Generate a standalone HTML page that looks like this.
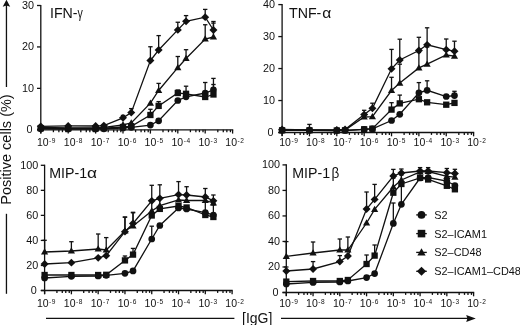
<!DOCTYPE html>
<html><head><meta charset="utf-8"><style>
html,body{margin:0;padding:0;background:#fff;}
svg{display:block;filter:blur(0.3px);}
text{font-family:"Liberation Sans",sans-serif;fill:#111;}
.yl{font-size:10.8px;text-anchor:end;}
.xl{font-size:10.5px;}
.sp{font-size:6.6px;letter-spacing:0.6px;}
.ti{font-size:14.2px;}
.lg{font-size:10.9px;}
.ax{font-size:14.5px;}
line,polyline{stroke:#111;stroke-width:1.3;}
circle,rect,path{fill:#111;}
</style></head><body>
<svg width="520" height="325" viewBox="0 0 520 325">
<line x1="40.8" y1="4.9" x2="40.8" y2="133.4" />
<line x1="37.0" y1="129.8" x2="233.2" y2="129.8" />
<line x1="37.0" y1="129.80" x2="40.8" y2="129.80" />
<text x="32.50" y="133.00" class="yl">0</text>
<line x1="37.0" y1="88.37" x2="40.8" y2="88.37" />
<text x="34.00" y="91.57" class="yl">10</text>
<line x1="37.0" y1="46.93" x2="40.8" y2="46.93" />
<text x="34.00" y="50.13" class="yl">20</text>
<line x1="37.0" y1="5.50" x2="40.8" y2="5.50" />
<text x="34.00" y="8.70" class="yl">30</text>
<line x1="40.80" y1="129.8" x2="40.80" y2="133.60000000000002" />
<line x1="53.40" y1="129.8" x2="53.40" y2="132.20000000000002" />
<line x1="58.88" y1="129.8" x2="58.88" y2="132.20000000000002" />
<line x1="62.45" y1="129.8" x2="62.45" y2="132.20000000000002" />
<line x1="66.01" y1="129.8" x2="66.01" y2="132.20000000000002" />
<text x="36.90" y="145.60" class="xl">10<tspan dx="0.5" dy="-2.9" class="sp">-9</tspan></text>
<line x1="68.20" y1="129.8" x2="68.20" y2="133.60000000000002" />
<line x1="80.80" y1="129.8" x2="80.80" y2="132.20000000000002" />
<line x1="86.28" y1="129.8" x2="86.28" y2="132.20000000000002" />
<line x1="89.85" y1="129.8" x2="89.85" y2="132.20000000000002" />
<line x1="93.41" y1="129.8" x2="93.41" y2="132.20000000000002" />
<text x="63.82" y="145.60" class="xl">10<tspan dx="0.5" dy="-2.9" class="sp">-8</tspan></text>
<line x1="95.60" y1="129.8" x2="95.60" y2="133.60000000000002" />
<line x1="108.20" y1="129.8" x2="108.20" y2="132.20000000000002" />
<line x1="113.68" y1="129.8" x2="113.68" y2="132.20000000000002" />
<line x1="117.25" y1="129.8" x2="117.25" y2="132.20000000000002" />
<line x1="120.81" y1="129.8" x2="120.81" y2="132.20000000000002" />
<text x="90.74" y="145.60" class="xl">10<tspan dx="0.5" dy="-2.9" class="sp">-7</tspan></text>
<line x1="123.00" y1="129.8" x2="123.00" y2="133.60000000000002" />
<line x1="135.60" y1="129.8" x2="135.60" y2="132.20000000000002" />
<line x1="141.08" y1="129.8" x2="141.08" y2="132.20000000000002" />
<line x1="144.65" y1="129.8" x2="144.65" y2="132.20000000000002" />
<line x1="148.21" y1="129.8" x2="148.21" y2="132.20000000000002" />
<text x="117.66" y="145.60" class="xl">10<tspan dx="0.5" dy="-2.9" class="sp">-6</tspan></text>
<line x1="150.40" y1="129.8" x2="150.40" y2="133.60000000000002" />
<line x1="163.00" y1="129.8" x2="163.00" y2="132.20000000000002" />
<line x1="168.48" y1="129.8" x2="168.48" y2="132.20000000000002" />
<line x1="172.05" y1="129.8" x2="172.05" y2="132.20000000000002" />
<line x1="175.61" y1="129.8" x2="175.61" y2="132.20000000000002" />
<text x="144.58" y="145.60" class="xl">10<tspan dx="0.5" dy="-2.9" class="sp">-5</tspan></text>
<line x1="177.80" y1="129.8" x2="177.80" y2="133.60000000000002" />
<line x1="190.40" y1="129.8" x2="190.40" y2="132.20000000000002" />
<line x1="195.88" y1="129.8" x2="195.88" y2="132.20000000000002" />
<line x1="199.45" y1="129.8" x2="199.45" y2="132.20000000000002" />
<line x1="203.01" y1="129.8" x2="203.01" y2="132.20000000000002" />
<text x="171.50" y="145.60" class="xl">10<tspan dx="0.5" dy="-2.9" class="sp">-4</tspan></text>
<line x1="205.20" y1="129.8" x2="205.20" y2="133.60000000000002" />
<line x1="217.80" y1="129.8" x2="217.80" y2="132.20000000000002" />
<line x1="223.28" y1="129.8" x2="223.28" y2="132.20000000000002" />
<line x1="226.85" y1="129.8" x2="226.85" y2="132.20000000000002" />
<line x1="230.41" y1="129.8" x2="230.41" y2="132.20000000000002" />
<text x="198.42" y="145.60" class="xl">10<tspan dx="0.5" dy="-2.9" class="sp">-3</tspan></text>
<line x1="232.60" y1="129.8" x2="232.60" y2="133.60000000000002" />
<text x="225.34" y="145.60" class="xl">10<tspan dx="0.5" dy="-2.9" class="sp">-2</tspan></text>
<text x="50.0" y="17.9" class="ti">IFN-</text>
<text transform="translate(77.6,17.9) scale(0.75,1)" class="ti">&#947;</text>
<line x1="282.1" y1="3.9999999999999996" x2="282.1" y2="136.1" />
<line x1="278.3" y1="132.5" x2="474.20000000000005" y2="132.5" />
<line x1="278.3" y1="132.50" x2="282.1" y2="132.50" />
<text x="273.50" y="135.70" class="yl">0</text>
<line x1="278.3" y1="100.53" x2="282.1" y2="100.53" />
<text x="275.00" y="103.73" class="yl">10</text>
<line x1="278.3" y1="68.55" x2="282.1" y2="68.55" />
<text x="275.00" y="71.75" class="yl">20</text>
<line x1="278.3" y1="36.58" x2="282.1" y2="36.58" />
<text x="275.00" y="39.78" class="yl">30</text>
<line x1="278.3" y1="4.60" x2="282.1" y2="4.60" />
<text x="275.00" y="7.80" class="yl">40</text>
<line x1="282.10" y1="132.5" x2="282.10" y2="136.3" />
<line x1="294.68" y1="132.5" x2="294.68" y2="134.9" />
<line x1="300.16" y1="132.5" x2="300.16" y2="134.9" />
<line x1="303.71" y1="132.5" x2="303.71" y2="134.9" />
<line x1="307.27" y1="132.5" x2="307.27" y2="134.9" />
<text x="279.20" y="145.60" class="xl">10<tspan dx="0.5" dy="-2.9" class="sp">-9</tspan></text>
<line x1="309.46" y1="132.5" x2="309.46" y2="136.3" />
<line x1="322.04" y1="132.5" x2="322.04" y2="134.9" />
<line x1="327.51" y1="132.5" x2="327.51" y2="134.9" />
<line x1="331.07" y1="132.5" x2="331.07" y2="134.9" />
<line x1="334.63" y1="132.5" x2="334.63" y2="134.9" />
<text x="306.07" y="145.60" class="xl">10<tspan dx="0.5" dy="-2.9" class="sp">-8</tspan></text>
<line x1="336.81" y1="132.5" x2="336.81" y2="136.3" />
<line x1="349.40" y1="132.5" x2="349.40" y2="134.9" />
<line x1="354.87" y1="132.5" x2="354.87" y2="134.9" />
<line x1="358.43" y1="132.5" x2="358.43" y2="134.9" />
<line x1="361.98" y1="132.5" x2="361.98" y2="134.9" />
<text x="332.94" y="145.60" class="xl">10<tspan dx="0.5" dy="-2.9" class="sp">-7</tspan></text>
<line x1="364.17" y1="132.5" x2="364.17" y2="136.3" />
<line x1="376.76" y1="132.5" x2="376.76" y2="134.9" />
<line x1="382.23" y1="132.5" x2="382.23" y2="134.9" />
<line x1="385.78" y1="132.5" x2="385.78" y2="134.9" />
<line x1="389.34" y1="132.5" x2="389.34" y2="134.9" />
<text x="359.81" y="145.60" class="xl">10<tspan dx="0.5" dy="-2.9" class="sp">-6</tspan></text>
<line x1="391.53" y1="132.5" x2="391.53" y2="136.3" />
<line x1="404.11" y1="132.5" x2="404.11" y2="134.9" />
<line x1="409.58" y1="132.5" x2="409.58" y2="134.9" />
<line x1="413.14" y1="132.5" x2="413.14" y2="134.9" />
<line x1="416.70" y1="132.5" x2="416.70" y2="134.9" />
<text x="386.68" y="145.60" class="xl">10<tspan dx="0.5" dy="-2.9" class="sp">-5</tspan></text>
<line x1="418.89" y1="132.5" x2="418.89" y2="136.3" />
<line x1="431.47" y1="132.5" x2="431.47" y2="134.9" />
<line x1="436.94" y1="132.5" x2="436.94" y2="134.9" />
<line x1="440.50" y1="132.5" x2="440.50" y2="134.9" />
<line x1="444.05" y1="132.5" x2="444.05" y2="134.9" />
<text x="413.55" y="145.60" class="xl">10<tspan dx="0.5" dy="-2.9" class="sp">-4</tspan></text>
<line x1="446.24" y1="132.5" x2="446.24" y2="136.3" />
<line x1="458.83" y1="132.5" x2="458.83" y2="134.9" />
<line x1="464.30" y1="132.5" x2="464.30" y2="134.9" />
<line x1="467.86" y1="132.5" x2="467.86" y2="134.9" />
<line x1="471.41" y1="132.5" x2="471.41" y2="134.9" />
<text x="440.42" y="145.60" class="xl">10<tspan dx="0.5" dy="-2.9" class="sp">-3</tspan></text>
<line x1="473.60" y1="132.5" x2="473.60" y2="136.3" />
<text x="467.29" y="145.60" class="xl">10<tspan dx="0.5" dy="-2.9" class="sp">-2</tspan></text>
<text x="289.0" y="17.9" class="ti">TNF-</text>
<text transform="translate(322.3,17.9) scale(1.1,1)" class="ti">&#945;</text>
<line x1="44.6" y1="164.70000000000002" x2="44.6" y2="294.1" />
<line x1="40.800000000000004" y1="290.5" x2="232.7" y2="290.5" />
<line x1="40.800000000000004" y1="290.50" x2="44.6" y2="290.50" />
<text x="36.80" y="293.70" class="yl">0</text>
<line x1="40.800000000000004" y1="265.46" x2="44.6" y2="265.46" />
<text x="38.30" y="268.66" class="yl">20</text>
<line x1="40.800000000000004" y1="240.42" x2="44.6" y2="240.42" />
<text x="38.30" y="243.62" class="yl">40</text>
<line x1="40.800000000000004" y1="215.38" x2="44.6" y2="215.38" />
<text x="38.30" y="218.58" class="yl">60</text>
<line x1="40.800000000000004" y1="190.34" x2="44.6" y2="190.34" />
<text x="38.30" y="193.54" class="yl">80</text>
<line x1="40.800000000000004" y1="165.30" x2="44.6" y2="165.30" />
<text x="38.30" y="168.50" class="yl">100</text>
<line x1="44.60" y1="290.5" x2="44.60" y2="294.3" />
<line x1="56.92" y1="290.5" x2="56.92" y2="292.9" />
<line x1="62.28" y1="290.5" x2="62.28" y2="292.9" />
<line x1="65.76" y1="290.5" x2="65.76" y2="292.9" />
<line x1="69.24" y1="290.5" x2="69.24" y2="292.9" />
<text x="36.90" y="307.00" class="xl">10<tspan dx="0.5" dy="-2.9" class="sp">-9</tspan></text>
<line x1="71.39" y1="290.5" x2="71.39" y2="294.3" />
<line x1="83.71" y1="290.5" x2="83.71" y2="292.9" />
<line x1="89.06" y1="290.5" x2="89.06" y2="292.9" />
<line x1="92.55" y1="290.5" x2="92.55" y2="292.9" />
<line x1="96.03" y1="290.5" x2="96.03" y2="292.9" />
<text x="63.82" y="307.00" class="xl">10<tspan dx="0.5" dy="-2.9" class="sp">-8</tspan></text>
<line x1="98.17" y1="290.5" x2="98.17" y2="294.3" />
<line x1="110.49" y1="290.5" x2="110.49" y2="292.9" />
<line x1="115.85" y1="290.5" x2="115.85" y2="292.9" />
<line x1="119.33" y1="290.5" x2="119.33" y2="292.9" />
<line x1="122.81" y1="290.5" x2="122.81" y2="292.9" />
<text x="90.74" y="307.00" class="xl">10<tspan dx="0.5" dy="-2.9" class="sp">-7</tspan></text>
<line x1="124.96" y1="290.5" x2="124.96" y2="294.3" />
<line x1="137.28" y1="290.5" x2="137.28" y2="292.9" />
<line x1="142.64" y1="290.5" x2="142.64" y2="292.9" />
<line x1="146.12" y1="290.5" x2="146.12" y2="292.9" />
<line x1="149.60" y1="290.5" x2="149.60" y2="292.9" />
<text x="117.66" y="307.00" class="xl">10<tspan dx="0.5" dy="-2.9" class="sp">-6</tspan></text>
<line x1="151.74" y1="290.5" x2="151.74" y2="294.3" />
<line x1="164.06" y1="290.5" x2="164.06" y2="292.9" />
<line x1="169.42" y1="290.5" x2="169.42" y2="292.9" />
<line x1="172.90" y1="290.5" x2="172.90" y2="292.9" />
<line x1="176.39" y1="290.5" x2="176.39" y2="292.9" />
<text x="144.58" y="307.00" class="xl">10<tspan dx="0.5" dy="-2.9" class="sp">-5</tspan></text>
<line x1="178.53" y1="290.5" x2="178.53" y2="294.3" />
<line x1="190.85" y1="290.5" x2="190.85" y2="292.9" />
<line x1="196.21" y1="290.5" x2="196.21" y2="292.9" />
<line x1="199.69" y1="290.5" x2="199.69" y2="292.9" />
<line x1="203.17" y1="290.5" x2="203.17" y2="292.9" />
<text x="171.50" y="307.00" class="xl">10<tspan dx="0.5" dy="-2.9" class="sp">-4</tspan></text>
<line x1="205.31" y1="290.5" x2="205.31" y2="294.3" />
<line x1="217.64" y1="290.5" x2="217.64" y2="292.9" />
<line x1="222.99" y1="290.5" x2="222.99" y2="292.9" />
<line x1="226.47" y1="290.5" x2="226.47" y2="292.9" />
<line x1="229.96" y1="290.5" x2="229.96" y2="292.9" />
<text x="198.42" y="307.00" class="xl">10<tspan dx="0.5" dy="-2.9" class="sp">-3</tspan></text>
<line x1="232.10" y1="290.5" x2="232.10" y2="294.3" />
<text x="225.34" y="307.00" class="xl">10<tspan dx="0.5" dy="-2.9" class="sp">-2</tspan></text>
<text x="49.3" y="177.9" class="ti">MIP-1</text>
<text transform="translate(87.1,177.9) scale(1.22,1)" class="ti">&#945;</text>
<line x1="286.3" y1="164.3" x2="286.3" y2="296.1" />
<line x1="282.5" y1="292.5" x2="474.20000000000005" y2="292.5" />
<line x1="282.5" y1="292.50" x2="286.3" y2="292.50" />
<text x="278.50" y="295.70" class="yl">0</text>
<line x1="282.5" y1="266.98" x2="286.3" y2="266.98" />
<text x="280.00" y="270.18" class="yl">20</text>
<line x1="282.5" y1="241.46" x2="286.3" y2="241.46" />
<text x="280.00" y="244.66" class="yl">40</text>
<line x1="282.5" y1="215.94" x2="286.3" y2="215.94" />
<text x="280.00" y="219.14" class="yl">60</text>
<line x1="282.5" y1="190.42" x2="286.3" y2="190.42" />
<text x="280.00" y="193.62" class="yl">80</text>
<line x1="282.5" y1="164.90" x2="286.3" y2="164.90" />
<text x="280.00" y="168.10" class="yl">100</text>
<line x1="286.30" y1="292.5" x2="286.30" y2="296.3" />
<line x1="298.61" y1="292.5" x2="298.61" y2="294.9" />
<line x1="303.96" y1="292.5" x2="303.96" y2="294.9" />
<line x1="307.44" y1="292.5" x2="307.44" y2="294.9" />
<line x1="310.92" y1="292.5" x2="310.92" y2="294.9" />
<text x="279.20" y="307.00" class="xl">10<tspan dx="0.5" dy="-2.9" class="sp">-9</tspan></text>
<line x1="313.06" y1="292.5" x2="313.06" y2="296.3" />
<line x1="325.37" y1="292.5" x2="325.37" y2="294.9" />
<line x1="330.72" y1="292.5" x2="330.72" y2="294.9" />
<line x1="334.20" y1="292.5" x2="334.20" y2="294.9" />
<line x1="337.67" y1="292.5" x2="337.67" y2="294.9" />
<text x="306.07" y="307.00" class="xl">10<tspan dx="0.5" dy="-2.9" class="sp">-8</tspan></text>
<line x1="339.81" y1="292.5" x2="339.81" y2="296.3" />
<line x1="352.12" y1="292.5" x2="352.12" y2="294.9" />
<line x1="357.47" y1="292.5" x2="357.47" y2="294.9" />
<line x1="360.95" y1="292.5" x2="360.95" y2="294.9" />
<line x1="364.43" y1="292.5" x2="364.43" y2="294.9" />
<text x="332.94" y="307.00" class="xl">10<tspan dx="0.5" dy="-2.9" class="sp">-7</tspan></text>
<line x1="366.57" y1="292.5" x2="366.57" y2="296.3" />
<line x1="378.88" y1="292.5" x2="378.88" y2="294.9" />
<line x1="384.23" y1="292.5" x2="384.23" y2="294.9" />
<line x1="387.71" y1="292.5" x2="387.71" y2="294.9" />
<line x1="391.19" y1="292.5" x2="391.19" y2="294.9" />
<text x="359.81" y="307.00" class="xl">10<tspan dx="0.5" dy="-2.9" class="sp">-6</tspan></text>
<line x1="393.33" y1="292.5" x2="393.33" y2="296.3" />
<line x1="405.64" y1="292.5" x2="405.64" y2="294.9" />
<line x1="410.99" y1="292.5" x2="410.99" y2="294.9" />
<line x1="414.47" y1="292.5" x2="414.47" y2="294.9" />
<line x1="417.95" y1="292.5" x2="417.95" y2="294.9" />
<text x="386.68" y="307.00" class="xl">10<tspan dx="0.5" dy="-2.9" class="sp">-5</tspan></text>
<line x1="420.09" y1="292.5" x2="420.09" y2="296.3" />
<line x1="432.39" y1="292.5" x2="432.39" y2="294.9" />
<line x1="437.75" y1="292.5" x2="437.75" y2="294.9" />
<line x1="441.22" y1="292.5" x2="441.22" y2="294.9" />
<line x1="444.70" y1="292.5" x2="444.70" y2="294.9" />
<text x="413.55" y="307.00" class="xl">10<tspan dx="0.5" dy="-2.9" class="sp">-4</tspan></text>
<line x1="446.84" y1="292.5" x2="446.84" y2="296.3" />
<line x1="459.15" y1="292.5" x2="459.15" y2="294.9" />
<line x1="464.50" y1="292.5" x2="464.50" y2="294.9" />
<line x1="467.98" y1="292.5" x2="467.98" y2="294.9" />
<line x1="471.46" y1="292.5" x2="471.46" y2="294.9" />
<text x="440.42" y="307.00" class="xl">10<tspan dx="0.5" dy="-2.9" class="sp">-3</tspan></text>
<line x1="473.60" y1="292.5" x2="473.60" y2="296.3" />
<text x="467.29" y="307.00" class="xl">10<tspan dx="0.5" dy="-2.9" class="sp">-2</tspan></text>
<text x="292.3" y="177.9" class="ti">MIP-1</text>
<text transform="translate(331.4,177.9) scale(0.95,1)" class="ti">&#946;</text>
<polyline points="40.80,128.80 68.20,129.00 95.60,129.00 103.85,128.80 123.00,128.00 131.25,127.30 150.40,125.10 158.65,120.80 177.80,100.50 186.05,96.80 205.20,93.00 213.45,89.80" fill="none" />
<line x1="213.45" y1="89.80" x2="213.45" y2="78.40" />
<line x1="211.25" y1="78.40" x2="215.65" y2="78.40" />
<circle cx="40.80" cy="128.80" r="3.35" />
<circle cx="68.20" cy="129.00" r="3.35" />
<circle cx="95.60" cy="129.00" r="3.35" />
<circle cx="103.85" cy="128.80" r="3.35" />
<circle cx="123.00" cy="128.00" r="3.35" />
<circle cx="131.25" cy="127.30" r="3.35" />
<circle cx="150.40" cy="125.10" r="3.35" />
<circle cx="158.65" cy="120.80" r="3.35" />
<circle cx="177.80" cy="100.50" r="3.35" />
<circle cx="186.05" cy="96.80" r="3.35" />
<circle cx="205.20" cy="93.00" r="3.35" />
<circle cx="213.45" cy="89.80" r="3.35" />
<polyline points="40.80,128.30 68.20,128.50 95.60,128.50 103.85,128.20 123.00,127.00 131.25,126.30 150.40,115.00 158.65,105.90 177.80,93.00 186.05,93.80 205.20,97.00 213.45,94.50" fill="none" />
<line x1="150.40" y1="115.00" x2="150.40" y2="109.30" />
<line x1="148.20" y1="109.30" x2="152.60" y2="109.30" />
<line x1="158.65" y1="105.90" x2="158.65" y2="101.60" />
<line x1="156.45" y1="101.60" x2="160.85" y2="101.60" />
<line x1="177.80" y1="93.00" x2="177.80" y2="90.00" />
<line x1="175.60" y1="90.00" x2="180.00" y2="90.00" />
<line x1="186.05" y1="93.80" x2="186.05" y2="86.20" />
<line x1="183.85" y1="86.20" x2="188.25" y2="86.20" />
<line x1="205.20" y1="97.00" x2="205.20" y2="82.50" />
<line x1="203.00" y1="82.50" x2="207.40" y2="82.50" />
<line x1="213.45" y1="94.50" x2="213.45" y2="84.50" />
<line x1="211.25" y1="84.50" x2="215.65" y2="84.50" />
<rect x="37.65" y="125.15" width="6.30" height="6.30" />
<rect x="65.05" y="125.35" width="6.30" height="6.30" />
<rect x="92.45" y="125.35" width="6.30" height="6.30" />
<rect x="100.70" y="125.05" width="6.30" height="6.30" />
<rect x="119.85" y="123.85" width="6.30" height="6.30" />
<rect x="128.10" y="123.15" width="6.30" height="6.30" />
<rect x="147.25" y="111.85" width="6.30" height="6.30" />
<rect x="155.50" y="102.75" width="6.30" height="6.30" />
<rect x="174.65" y="89.85" width="6.30" height="6.30" />
<rect x="182.90" y="90.65" width="6.30" height="6.30" />
<rect x="202.05" y="93.85" width="6.30" height="6.30" />
<rect x="210.30" y="91.35" width="6.30" height="6.30" />
<polyline points="40.80,127.50 68.20,127.80 95.60,127.80 103.85,127.50 123.00,124.80 131.25,123.00 150.40,103.10 158.65,90.50 177.80,67.70 186.05,58.50 205.20,39.00 213.45,37.00" fill="none" />
<line x1="158.65" y1="90.50" x2="158.65" y2="83.40" />
<line x1="156.45" y1="83.40" x2="160.85" y2="83.40" />
<line x1="177.80" y1="67.70" x2="177.80" y2="56.50" />
<line x1="175.60" y1="56.50" x2="180.00" y2="56.50" />
<line x1="186.05" y1="58.50" x2="186.05" y2="49.70" />
<line x1="183.85" y1="49.70" x2="188.25" y2="49.70" />
<line x1="205.20" y1="39.00" x2="205.20" y2="24.75" />
<line x1="203.00" y1="24.75" x2="207.40" y2="24.75" />
<line x1="213.45" y1="37.00" x2="213.45" y2="23.10" />
<line x1="211.25" y1="23.10" x2="215.65" y2="23.10" />
<path d="M40.80 123.80L44.40 130.10L37.20 130.10Z" />
<path d="M68.20 124.10L71.80 130.40L64.60 130.40Z" />
<path d="M95.60 124.10L99.20 130.40L92.00 130.40Z" />
<path d="M103.85 123.80L107.45 130.10L100.25 130.10Z" />
<path d="M123.00 121.10L126.60 127.40L119.40 127.40Z" />
<path d="M131.25 119.30L134.85 125.60L127.65 125.60Z" />
<path d="M150.40 99.40L154.00 105.70L146.80 105.70Z" />
<path d="M158.65 86.80L162.25 93.10L155.05 93.10Z" />
<path d="M177.80 64.00L181.40 70.30L174.20 70.30Z" />
<path d="M186.05 54.80L189.65 61.10L182.45 61.10Z" />
<path d="M205.20 35.30L208.80 41.60L201.60 41.60Z" />
<path d="M213.45 33.30L217.05 39.60L209.85 39.60Z" />
<polyline points="40.80,126.30 68.20,125.90 95.60,126.00 103.85,125.60 123.00,117.80 131.25,112.60 150.40,60.50 158.65,50.00 177.80,29.90 186.05,21.30 205.20,17.20 213.45,30.00" fill="none" />
<line x1="123.00" y1="117.80" x2="123.00" y2="115.40" />
<line x1="120.80" y1="115.40" x2="125.20" y2="115.40" />
<line x1="131.25" y1="112.60" x2="131.25" y2="108.60" />
<line x1="129.05" y1="108.60" x2="133.45" y2="108.60" />
<line x1="150.40" y1="60.50" x2="150.40" y2="46.75" />
<line x1="148.20" y1="46.75" x2="152.60" y2="46.75" />
<line x1="158.65" y1="50.00" x2="158.65" y2="35.60" />
<line x1="156.45" y1="35.60" x2="160.85" y2="35.60" />
<line x1="177.80" y1="29.90" x2="177.80" y2="22.25" />
<line x1="175.60" y1="22.25" x2="180.00" y2="22.25" />
<line x1="186.05" y1="21.30" x2="186.05" y2="15.60" />
<line x1="183.85" y1="15.60" x2="188.25" y2="15.60" />
<line x1="205.20" y1="17.20" x2="205.20" y2="9.40" />
<line x1="203.00" y1="9.40" x2="207.40" y2="9.40" />
<line x1="213.45" y1="30.00" x2="213.45" y2="21.50" />
<line x1="211.25" y1="21.50" x2="215.65" y2="21.50" />
<path d="M40.80 122.40L44.80 126.30L40.80 130.20L36.80 126.30Z" />
<path d="M68.20 122.00L72.20 125.90L68.20 129.80L64.20 125.90Z" />
<path d="M95.60 122.10L99.60 126.00L95.60 129.90L91.60 126.00Z" />
<path d="M103.85 121.70L107.85 125.60L103.85 129.50L99.85 125.60Z" />
<path d="M123.00 113.90L127.00 117.80L123.00 121.70L119.00 117.80Z" />
<path d="M131.25 108.70L135.25 112.60L131.25 116.50L127.25 112.60Z" />
<path d="M150.40 56.60L154.40 60.50L150.40 64.40L146.40 60.50Z" />
<path d="M158.65 46.10L162.65 50.00L158.65 53.90L154.65 50.00Z" />
<path d="M177.80 26.00L181.80 29.90L177.80 33.80L173.80 29.90Z" />
<path d="M186.05 17.40L190.05 21.30L186.05 25.20L182.05 21.30Z" />
<path d="M205.20 13.30L209.20 17.20L205.20 21.10L201.20 17.20Z" />
<path d="M213.45 26.10L217.45 30.00L213.45 33.90L209.45 30.00Z" />
<polyline points="282.10,130.30 309.46,130.30 336.81,130.50 345.05,130.50 364.17,129.30 372.41,128.80 391.53,120.50 399.76,114.30 418.89,92.80 427.12,90.30 446.24,96.50 454.48,95.60" fill="none" />
<line x1="418.89" y1="92.80" x2="418.89" y2="82.60" />
<line x1="416.69" y1="82.60" x2="421.09" y2="82.60" />
<line x1="427.12" y1="90.30" x2="427.12" y2="80.80" />
<line x1="424.92" y1="80.80" x2="429.32" y2="80.80" />
<line x1="454.48" y1="95.60" x2="454.48" y2="91.30" />
<line x1="452.28" y1="91.30" x2="456.68" y2="91.30" />
<circle cx="282.10" cy="130.30" r="3.35" />
<circle cx="309.46" cy="130.30" r="3.35" />
<circle cx="336.81" cy="130.50" r="3.35" />
<circle cx="345.05" cy="130.50" r="3.35" />
<circle cx="364.17" cy="129.30" r="3.35" />
<circle cx="372.41" cy="128.80" r="3.35" />
<circle cx="391.53" cy="120.50" r="3.35" />
<circle cx="399.76" cy="114.30" r="3.35" />
<circle cx="418.89" cy="92.80" r="3.35" />
<circle cx="427.12" cy="90.30" r="3.35" />
<circle cx="446.24" cy="96.50" r="3.35" />
<circle cx="454.48" cy="95.60" r="3.35" />
<polyline points="282.10,130.30 309.46,130.30 336.81,130.50 345.05,130.30 364.17,129.30 372.41,128.70 391.53,109.60 399.76,103.40 418.89,99.20 427.12,102.30 446.24,104.70 454.48,102.90" fill="none" />
<line x1="391.53" y1="109.60" x2="391.53" y2="102.70" />
<line x1="389.33" y1="102.70" x2="393.73" y2="102.70" />
<line x1="399.76" y1="103.40" x2="399.76" y2="95.10" />
<line x1="397.56" y1="95.10" x2="401.96" y2="95.10" />
<rect x="278.95" y="127.15" width="6.30" height="6.30" />
<rect x="306.31" y="127.15" width="6.30" height="6.30" />
<rect x="333.66" y="127.35" width="6.30" height="6.30" />
<rect x="341.90" y="127.15" width="6.30" height="6.30" />
<rect x="361.02" y="126.15" width="6.30" height="6.30" />
<rect x="369.26" y="125.55" width="6.30" height="6.30" />
<rect x="388.38" y="106.45" width="6.30" height="6.30" />
<rect x="396.61" y="100.25" width="6.30" height="6.30" />
<rect x="415.74" y="96.05" width="6.30" height="6.30" />
<rect x="423.97" y="99.15" width="6.30" height="6.30" />
<rect x="443.09" y="101.55" width="6.30" height="6.30" />
<rect x="451.33" y="99.75" width="6.30" height="6.30" />
<polyline points="282.10,130.00 309.46,130.00 336.81,130.30 345.05,130.00 364.17,117.00 372.41,116.60 391.53,90.50 399.76,83.10 418.89,67.90 427.12,64.20 446.24,55.00 454.48,56.20" fill="none" />
<line x1="391.53" y1="90.50" x2="391.53" y2="77.30" />
<line x1="389.33" y1="77.30" x2="393.73" y2="77.30" />
<line x1="399.76" y1="83.10" x2="399.76" y2="64.20" />
<line x1="397.56" y1="64.20" x2="401.96" y2="64.20" />
<line x1="418.89" y1="67.90" x2="418.89" y2="52.50" />
<line x1="416.69" y1="52.50" x2="421.09" y2="52.50" />
<line x1="427.12" y1="64.20" x2="427.12" y2="47.00" />
<line x1="424.92" y1="47.00" x2="429.32" y2="47.00" />
<path d="M282.10 126.30L285.70 132.60L278.50 132.60Z" />
<path d="M309.46 126.30L313.06 132.60L305.86 132.60Z" />
<path d="M336.81 126.60L340.41 132.90L333.21 132.90Z" />
<path d="M345.05 126.30L348.65 132.60L341.45 132.60Z" />
<path d="M364.17 113.30L367.77 119.60L360.57 119.60Z" />
<path d="M372.41 112.90L376.01 119.20L368.81 119.20Z" />
<path d="M391.53 86.80L395.13 93.10L387.93 93.10Z" />
<path d="M399.76 79.40L403.36 85.70L396.16 85.70Z" />
<path d="M418.89 64.20L422.49 70.50L415.29 70.50Z" />
<path d="M427.12 60.50L430.72 66.80L423.52 66.80Z" />
<path d="M446.24 51.30L449.84 57.60L442.64 57.60Z" />
<path d="M454.48 52.50L458.08 58.80L450.88 58.80Z" />
<polyline points="282.10,129.50 309.46,129.90 336.81,130.00 345.05,129.50 364.17,114.60 372.41,108.30 391.53,68.80 399.76,60.00 418.89,50.50 427.12,44.80 446.24,49.70 454.48,51.20" fill="none" />
<line x1="309.46" y1="129.90" x2="309.46" y2="124.40" />
<line x1="307.26" y1="124.40" x2="311.66" y2="124.40" />
<line x1="364.17" y1="114.60" x2="364.17" y2="110.30" />
<line x1="361.97" y1="110.30" x2="366.37" y2="110.30" />
<line x1="372.41" y1="108.30" x2="372.41" y2="103.20" />
<line x1="370.21" y1="103.20" x2="374.61" y2="103.20" />
<line x1="391.53" y1="68.80" x2="391.53" y2="49.40" />
<line x1="389.33" y1="49.40" x2="393.73" y2="49.40" />
<line x1="399.76" y1="60.00" x2="399.76" y2="39.20" />
<line x1="397.56" y1="39.20" x2="401.96" y2="39.20" />
<line x1="418.89" y1="50.50" x2="418.89" y2="37.30" />
<line x1="416.69" y1="37.30" x2="421.09" y2="37.30" />
<line x1="427.12" y1="44.80" x2="427.12" y2="27.80" />
<line x1="424.92" y1="27.80" x2="429.32" y2="27.80" />
<line x1="446.24" y1="49.70" x2="446.24" y2="39.00" />
<line x1="444.04" y1="39.00" x2="448.44" y2="39.00" />
<line x1="454.48" y1="51.20" x2="454.48" y2="41.20" />
<line x1="452.28" y1="41.20" x2="456.68" y2="41.20" />
<path d="M282.10 125.60L286.10 129.50L282.10 133.40L278.10 129.50Z" />
<path d="M309.46 126.00L313.46 129.90L309.46 133.80L305.46 129.90Z" />
<path d="M336.81 126.10L340.81 130.00L336.81 133.90L332.81 130.00Z" />
<path d="M345.05 125.60L349.05 129.50L345.05 133.40L341.05 129.50Z" />
<path d="M364.17 110.70L368.17 114.60L364.17 118.50L360.17 114.60Z" />
<path d="M372.41 104.40L376.41 108.30L372.41 112.20L368.41 108.30Z" />
<path d="M391.53 64.90L395.53 68.80L391.53 72.70L387.53 68.80Z" />
<path d="M399.76 56.10L403.76 60.00L399.76 63.90L395.76 60.00Z" />
<path d="M418.89 46.60L422.89 50.50L418.89 54.40L414.89 50.50Z" />
<path d="M427.12 40.90L431.12 44.80L427.12 48.70L423.12 44.80Z" />
<path d="M446.24 45.80L450.24 49.70L446.24 53.60L442.24 49.70Z" />
<path d="M454.48 47.30L458.48 51.20L454.48 55.10L450.48 51.20Z" />
<polyline points="44.60,278.00 71.39,276.30 98.17,276.00 106.23,275.30 124.96,273.30 133.02,270.90 151.74,239.00 159.81,225.50 178.53,208.00 186.59,209.00 205.31,212.70 213.38,215.00" fill="none" />
<line x1="151.74" y1="239.00" x2="151.74" y2="226.20" />
<line x1="149.54" y1="226.20" x2="153.94" y2="226.20" />
<circle cx="44.60" cy="278.00" r="3.35" />
<circle cx="71.39" cy="276.30" r="3.35" />
<circle cx="98.17" cy="276.00" r="3.35" />
<circle cx="106.23" cy="275.30" r="3.35" />
<circle cx="124.96" cy="273.30" r="3.35" />
<circle cx="133.02" cy="270.90" r="3.35" />
<circle cx="151.74" cy="239.00" r="3.35" />
<circle cx="159.81" cy="225.50" r="3.35" />
<circle cx="178.53" cy="208.00" r="3.35" />
<circle cx="186.59" cy="209.00" r="3.35" />
<circle cx="205.31" cy="212.70" r="3.35" />
<circle cx="213.38" cy="215.00" r="3.35" />
<polyline points="44.60,275.00 71.39,275.00 98.17,275.00 106.23,274.80 124.96,260.40 133.02,254.60 151.74,215.50 159.81,208.90 178.53,206.00 186.59,207.50 205.31,215.00 213.38,217.00" fill="none" />
<line x1="124.96" y1="260.40" x2="124.96" y2="256.00" />
<line x1="122.76" y1="256.00" x2="127.16" y2="256.00" />
<line x1="133.02" y1="254.60" x2="133.02" y2="248.40" />
<line x1="130.82" y1="248.40" x2="135.22" y2="248.40" />
<line x1="151.74" y1="215.50" x2="151.74" y2="201.50" />
<line x1="149.54" y1="201.50" x2="153.94" y2="201.50" />
<line x1="159.81" y1="208.90" x2="159.81" y2="199.00" />
<line x1="157.61" y1="199.00" x2="162.01" y2="199.00" />
<line x1="205.31" y1="215.00" x2="205.31" y2="202.00" />
<line x1="203.11" y1="202.00" x2="207.51" y2="202.00" />
<line x1="213.38" y1="217.00" x2="213.38" y2="205.00" />
<line x1="211.18" y1="205.00" x2="215.58" y2="205.00" />
<rect x="41.45" y="271.85" width="6.30" height="6.30" />
<rect x="68.24" y="271.85" width="6.30" height="6.30" />
<rect x="95.02" y="271.85" width="6.30" height="6.30" />
<rect x="103.08" y="271.65" width="6.30" height="6.30" />
<rect x="121.81" y="257.25" width="6.30" height="6.30" />
<rect x="129.87" y="251.45" width="6.30" height="6.30" />
<rect x="148.59" y="212.35" width="6.30" height="6.30" />
<rect x="156.66" y="205.75" width="6.30" height="6.30" />
<rect x="175.38" y="202.85" width="6.30" height="6.30" />
<rect x="183.44" y="204.35" width="6.30" height="6.30" />
<rect x="202.16" y="211.85" width="6.30" height="6.30" />
<rect x="210.23" y="213.85" width="6.30" height="6.30" />
<polyline points="44.60,252.00 71.39,251.00 98.17,249.00 106.23,250.00 124.96,231.00 133.02,226.00 151.74,211.00 159.81,205.70 178.53,200.00 186.59,200.50 205.31,200.30 213.38,203.00" fill="none" />
<line x1="44.60" y1="252.00" x2="44.60" y2="240.30" />
<line x1="42.40" y1="240.30" x2="46.80" y2="240.30" />
<line x1="71.39" y1="251.00" x2="71.39" y2="241.70" />
<line x1="69.19" y1="241.70" x2="73.59" y2="241.70" />
<line x1="98.17" y1="249.00" x2="98.17" y2="234.00" />
<line x1="95.97" y1="234.00" x2="100.37" y2="234.00" />
<line x1="106.23" y1="250.00" x2="106.23" y2="237.60" />
<line x1="104.03" y1="237.60" x2="108.43" y2="237.60" />
<line x1="124.96" y1="231.00" x2="124.96" y2="217.20" />
<line x1="122.76" y1="217.20" x2="127.16" y2="217.20" />
<line x1="133.02" y1="226.00" x2="133.02" y2="212.80" />
<line x1="130.82" y1="212.80" x2="135.22" y2="212.80" />
<path d="M44.60 248.30L48.20 254.60L41.00 254.60Z" />
<path d="M71.39 247.30L74.99 253.60L67.79 253.60Z" />
<path d="M98.17 245.30L101.77 251.60L94.57 251.60Z" />
<path d="M106.23 246.30L109.83 252.60L102.63 252.60Z" />
<path d="M124.96 227.30L128.56 233.60L121.36 233.60Z" />
<path d="M133.02 222.30L136.62 228.60L129.42 228.60Z" />
<path d="M151.74 207.30L155.34 213.60L148.14 213.60Z" />
<path d="M159.81 202.00L163.41 208.30L156.21 208.30Z" />
<path d="M178.53 196.30L182.13 202.60L174.93 202.60Z" />
<path d="M186.59 196.80L190.19 203.10L182.99 203.10Z" />
<path d="M205.31 196.60L208.91 202.90L201.71 202.90Z" />
<path d="M213.38 199.30L216.98 205.60L209.78 205.60Z" />
<polyline points="44.60,264.00 71.39,262.70 98.17,257.80 106.23,255.70 124.96,231.70 133.02,223.50 151.74,200.80 159.81,198.30 178.53,194.60 186.59,195.00 205.31,197.00 213.38,200.80" fill="none" />
<line x1="124.96" y1="231.70" x2="124.96" y2="217.00" />
<line x1="122.76" y1="217.00" x2="127.16" y2="217.00" />
<line x1="133.02" y1="223.50" x2="133.02" y2="212.30" />
<line x1="130.82" y1="212.30" x2="135.22" y2="212.30" />
<line x1="151.74" y1="200.80" x2="151.74" y2="185.30" />
<line x1="149.54" y1="185.30" x2="153.94" y2="185.30" />
<line x1="159.81" y1="198.30" x2="159.81" y2="184.80" />
<line x1="157.61" y1="184.80" x2="162.01" y2="184.80" />
<line x1="178.53" y1="194.60" x2="178.53" y2="181.60" />
<line x1="176.33" y1="181.60" x2="180.73" y2="181.60" />
<line x1="186.59" y1="195.00" x2="186.59" y2="186.70" />
<line x1="184.39" y1="186.70" x2="188.79" y2="186.70" />
<line x1="205.31" y1="197.00" x2="205.31" y2="188.50" />
<line x1="203.11" y1="188.50" x2="207.51" y2="188.50" />
<line x1="213.38" y1="200.80" x2="213.38" y2="195.00" />
<line x1="211.18" y1="195.00" x2="215.58" y2="195.00" />
<path d="M44.60 260.10L48.60 264.00L44.60 267.90L40.60 264.00Z" />
<path d="M71.39 258.80L75.39 262.70L71.39 266.60L67.39 262.70Z" />
<path d="M98.17 253.90L102.17 257.80L98.17 261.70L94.17 257.80Z" />
<path d="M106.23 251.80L110.23 255.70L106.23 259.60L102.23 255.70Z" />
<path d="M124.96 227.80L128.96 231.70L124.96 235.60L120.96 231.70Z" />
<path d="M133.02 219.60L137.02 223.50L133.02 227.40L129.02 223.50Z" />
<path d="M151.74 196.90L155.74 200.80L151.74 204.70L147.74 200.80Z" />
<path d="M159.81 194.40L163.81 198.30L159.81 202.20L155.81 198.30Z" />
<path d="M178.53 190.70L182.53 194.60L178.53 198.50L174.53 194.60Z" />
<path d="M186.59 191.10L190.59 195.00L186.59 198.90L182.59 195.00Z" />
<path d="M205.31 193.10L209.31 197.00L205.31 200.90L201.31 197.00Z" />
<path d="M213.38 196.90L217.38 200.80L213.38 204.70L209.38 200.80Z" />
<polyline points="286.30,284.00 313.06,282.40 339.81,282.00 347.87,281.00 366.57,277.60 374.63,273.60 393.33,223.40 401.38,204.30 420.09,178.00 428.14,177.50 446.84,181.00 454.90,185.50" fill="none" />
<line x1="393.33" y1="223.40" x2="393.33" y2="203.00" />
<line x1="391.13" y1="203.00" x2="395.53" y2="203.00" />
<line x1="401.38" y1="204.30" x2="401.38" y2="175.00" />
<line x1="399.18" y1="175.00" x2="403.58" y2="175.00" />
<circle cx="286.30" cy="284.00" r="3.35" />
<circle cx="313.06" cy="282.40" r="3.35" />
<circle cx="339.81" cy="282.00" r="3.35" />
<circle cx="347.87" cy="281.00" r="3.35" />
<circle cx="366.57" cy="277.60" r="3.35" />
<circle cx="374.63" cy="273.60" r="3.35" />
<circle cx="393.33" cy="223.40" r="3.35" />
<circle cx="401.38" cy="204.30" r="3.35" />
<circle cx="420.09" cy="178.00" r="3.35" />
<circle cx="428.14" cy="177.50" r="3.35" />
<circle cx="446.84" cy="181.00" r="3.35" />
<circle cx="454.90" cy="185.50" r="3.35" />
<polyline points="286.30,281.60 313.06,281.00 339.81,281.00 347.87,280.00 366.57,264.00 374.63,255.60 393.33,192.70 401.38,184.00 420.09,177.80 428.14,179.50 446.84,185.80 454.90,189.30" fill="none" />
<line x1="366.57" y1="264.00" x2="366.57" y2="255.00" />
<line x1="364.37" y1="255.00" x2="368.77" y2="255.00" />
<line x1="374.63" y1="255.60" x2="374.63" y2="245.00" />
<line x1="372.43" y1="245.00" x2="376.83" y2="245.00" />
<line x1="393.33" y1="192.70" x2="393.33" y2="178.00" />
<line x1="391.13" y1="178.00" x2="395.53" y2="178.00" />
<rect x="283.15" y="278.45" width="6.30" height="6.30" />
<rect x="309.91" y="277.85" width="6.30" height="6.30" />
<rect x="336.66" y="277.85" width="6.30" height="6.30" />
<rect x="344.72" y="276.85" width="6.30" height="6.30" />
<rect x="363.42" y="260.85" width="6.30" height="6.30" />
<rect x="371.48" y="252.45" width="6.30" height="6.30" />
<rect x="390.18" y="189.55" width="6.30" height="6.30" />
<rect x="398.23" y="180.85" width="6.30" height="6.30" />
<rect x="416.94" y="174.65" width="6.30" height="6.30" />
<rect x="424.99" y="176.35" width="6.30" height="6.30" />
<rect x="443.69" y="182.65" width="6.30" height="6.30" />
<rect x="451.75" y="186.15" width="6.30" height="6.30" />
<polyline points="286.30,256.40 313.06,253.00 339.81,250.00 347.87,250.00 366.57,223.00 374.63,209.40 393.33,187.00 401.38,180.00 420.09,172.00 428.14,171.50 446.84,176.30 454.90,177.20" fill="none" />
<line x1="286.30" y1="256.40" x2="286.30" y2="241.60" />
<line x1="284.10" y1="241.60" x2="288.50" y2="241.60" />
<line x1="313.06" y1="253.00" x2="313.06" y2="242.00" />
<line x1="310.86" y1="242.00" x2="315.26" y2="242.00" />
<line x1="339.81" y1="250.00" x2="339.81" y2="239.00" />
<line x1="337.61" y1="239.00" x2="342.01" y2="239.00" />
<line x1="347.87" y1="250.00" x2="347.87" y2="237.00" />
<line x1="345.67" y1="237.00" x2="350.07" y2="237.00" />
<path d="M286.30 252.70L289.90 259.00L282.70 259.00Z" />
<path d="M313.06 249.30L316.66 255.60L309.46 255.60Z" />
<path d="M339.81 246.30L343.41 252.60L336.21 252.60Z" />
<path d="M347.87 246.30L351.47 252.60L344.27 252.60Z" />
<path d="M366.57 219.30L370.17 225.60L362.97 225.60Z" />
<path d="M374.63 205.70L378.23 212.00L371.03 212.00Z" />
<path d="M393.33 183.30L396.93 189.60L389.73 189.60Z" />
<path d="M401.38 176.30L404.98 182.60L397.78 182.60Z" />
<path d="M420.09 168.30L423.69 174.60L416.49 174.60Z" />
<path d="M428.14 167.80L431.74 174.10L424.54 174.10Z" />
<path d="M446.84 172.60L450.44 178.90L443.24 178.90Z" />
<path d="M454.90 173.50L458.50 179.80L451.30 179.80Z" />
<polyline points="286.30,271.00 313.06,269.00 339.81,261.60 347.87,256.00 366.57,209.00 374.63,199.40 393.33,176.00 401.38,173.00 420.09,171.00 428.14,171.00 446.84,172.70 454.90,173.50" fill="none" />
<line x1="286.30" y1="271.00" x2="286.30" y2="267.00" />
<line x1="284.10" y1="267.00" x2="288.50" y2="267.00" />
<line x1="313.06" y1="269.00" x2="313.06" y2="261.60" />
<line x1="310.86" y1="261.60" x2="315.26" y2="261.60" />
<line x1="339.81" y1="261.60" x2="339.81" y2="255.60" />
<line x1="337.61" y1="255.60" x2="342.01" y2="255.60" />
<line x1="366.57" y1="209.00" x2="366.57" y2="192.00" />
<line x1="364.37" y1="192.00" x2="368.77" y2="192.00" />
<line x1="374.63" y1="199.40" x2="374.63" y2="184.40" />
<line x1="372.43" y1="184.40" x2="376.83" y2="184.40" />
<line x1="393.33" y1="176.00" x2="393.33" y2="169.40" />
<line x1="391.13" y1="169.40" x2="395.53" y2="169.40" />
<line x1="401.38" y1="173.00" x2="401.38" y2="169.00" />
<line x1="399.18" y1="169.00" x2="403.58" y2="169.00" />
<line x1="420.09" y1="171.00" x2="420.09" y2="167.60" />
<line x1="417.89" y1="167.60" x2="422.29" y2="167.60" />
<line x1="428.14" y1="171.00" x2="428.14" y2="167.60" />
<line x1="425.94" y1="167.60" x2="430.34" y2="167.60" />
<line x1="446.84" y1="172.70" x2="446.84" y2="168.50" />
<line x1="444.64" y1="168.50" x2="449.04" y2="168.50" />
<line x1="454.90" y1="173.50" x2="454.90" y2="169.30" />
<line x1="452.70" y1="169.30" x2="457.10" y2="169.30" />
<path d="M286.30 267.10L290.30 271.00L286.30 274.90L282.30 271.00Z" />
<path d="M313.06 265.10L317.06 269.00L313.06 272.90L309.06 269.00Z" />
<path d="M339.81 257.70L343.81 261.60L339.81 265.50L335.81 261.60Z" />
<path d="M347.87 252.10L351.87 256.00L347.87 259.90L343.87 256.00Z" />
<path d="M366.57 205.10L370.57 209.00L366.57 212.90L362.57 209.00Z" />
<path d="M374.63 195.50L378.63 199.40L374.63 203.30L370.63 199.40Z" />
<path d="M393.33 172.10L397.33 176.00L393.33 179.90L389.33 176.00Z" />
<path d="M401.38 169.10L405.38 173.00L401.38 176.90L397.38 173.00Z" />
<path d="M420.09 167.10L424.09 171.00L420.09 174.90L416.09 171.00Z" />
<path d="M428.14 167.10L432.14 171.00L428.14 174.90L424.14 171.00Z" />
<path d="M446.84 168.80L450.84 172.70L446.84 176.60L442.84 172.70Z" />
<path d="M454.90 169.60L458.90 173.50L454.90 177.40L450.90 173.50Z" />
<line x1="416.2" y1="214.9" x2="426.8" y2="214.9" />
<circle cx="421.50" cy="214.90" r="3.85" />
<text x="434.3" y="218.8" class="lg">S2</text>
<line x1="416.2" y1="233.6" x2="426.8" y2="233.6" />
<rect x="417.72" y="229.82" width="7.56" height="7.56" />
<text x="434.3" y="237.5" class="lg">S2&#8211;ICAM1</text>
<line x1="416.2" y1="252.4" x2="426.8" y2="252.4" />
<path d="M421.50 248.15L425.64 255.39L417.36 255.39Z" />
<text x="434.3" y="256.3" class="lg">S2&#8211;CD48</text>
<line x1="416.2" y1="271.3" x2="426.8" y2="271.3" />
<path d="M421.50 266.81L426.10 271.30L421.50 275.79L416.90 271.30Z" />
<text x="434.3" y="275.2" class="lg">S2&#8211;ICAM1&#8211;CD48</text>
<line x1="6.45" y1="4" x2="6.45" y2="87" />
<path d="M6.45 -0.3 L10.2 6.8 L6.45 5.6 L2.7 6.8 Z" />
<line x1="6.45" y1="213.8" x2="6.45" y2="293.8" />
<text transform="translate(10.9,149.5) rotate(-90)" text-anchor="middle" class="ax">Positive cells (%)</text>
<line x1="46" y1="318.45" x2="234.4" y2="318.45" />
<line x1="281" y1="318.45" x2="468" y2="318.45" />
<path d="M475.8 318.45 L466.2 315.0 L467.4 318.45 L466.2 321.9 Z" />
<text x="257.2" y="322.8" text-anchor="middle" class="ax" style="font-size:14px">[IgG]</text>
</svg></body></html>
